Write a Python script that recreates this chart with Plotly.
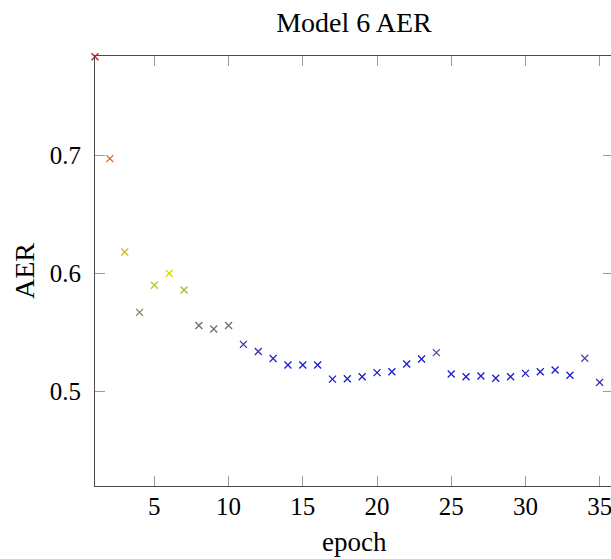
import plotly.graph_objects as go

epochs = list(range(1, 37))
aer = [0.783, 0.697, 0.618, 0.567, 0.590, 0.600, 0.586, 0.556, 0.553, 0.556,
       0.540, 0.534, 0.528, 0.5225, 0.5225, 0.5225, 0.5106, 0.5110, 0.5127, 0.5161,
       0.5169, 0.5234, 0.5277, 0.5330, 0.5150, 0.5127, 0.5133, 0.5113, 0.5127, 0.5155,
       0.5169, 0.5183, 0.5139, 0.5282, 0.5079, 0.5099]
x_ticks = [5, 10, 15, 20, 25, 30, 35]
y_ticks = [0.5, 0.6, 0.7]

# per-point marker colours (style)
marker_colors = (["#d01818", "#e0661a", "#c8c018", "#7f7f58", "#c2c236", "#d2d200", "#b4b434",
                  "#707070", "#707070", "#707070", "#3434b0", "#3030b8", "#2a2ac0"]
                 + ["#1c1ccc"] * 10 + ["#4a4aa8"] + ["#1c1ccc"] * 9 + ["#4a4aa8"] + ["#1c1ccc"] * 2)

font_family = "Liberation Serif"
W, H = 613, 559
L, R, T, B = 95, 0, 56, 73

fig = go.Figure()
fig.add_trace(go.Scatter(
    x=epochs, y=aer, mode="markers",
    marker=dict(symbol="x-thin", size=7, color=marker_colors,
                line=dict(width=1.3, color=marker_colors)),
    cliponaxis=False, showlegend=False,
))

axis_common = dict(
    showgrid=False, zeroline=False, showline=True, linecolor="#4a4a4a", linewidth=1.2,
    ticks="inside", ticklen=10, tickcolor="#9a9a9a", tickwidth=1,
    tickfont=dict(family=font_family, size=25, color="#000"),
    mirror="allticks",
)

fig.update_layout(
    width=W, height=H,
    margin=dict(l=L, r=R, t=T, b=B),
    paper_bgcolor="white", plot_bgcolor="white",
    font=dict(family=font_family, color="#000"),
    title=dict(text="Model 6 AER", x=0.5, xref="paper", xanchor="center",
               y=1 - 22 / H, yanchor="middle", yref="container",
               font=dict(family=font_family, size=28, color="#000")),
    xaxis=dict(range=[1, 35.9], tickvals=x_ticks, ticktext=[str(v) for v in x_ticks],
               ticklabelstandoff=-2, **axis_common),
    yaxis=dict(range=[0.4203, 0.7837], tickvals=y_ticks, ticktext=[str(v) for v in y_ticks],
               ticklabelstandoff=8, **axis_common),
    annotations=[
        dict(text="epoch", xref="paper", yref="paper", x=0.5, y=0, xanchor="center",
             yanchor="middle", yshift=-56, showarrow=False,
             font=dict(family=font_family, size=27, color="#000")),
        dict(text="AER", xref="paper", yref="paper", x=0, y=0.5, xanchor="center",
             yanchor="middle", xshift=-71, textangle=-90, showarrow=False,
             font=dict(family=font_family, size=28, color="#000")),
    ],
)

fig.write_html(
    "out.html",
    config={"displayModeBar": False},
    post_script="document.body.style.margin='0';document.body.style.overflow='hidden';",
)
